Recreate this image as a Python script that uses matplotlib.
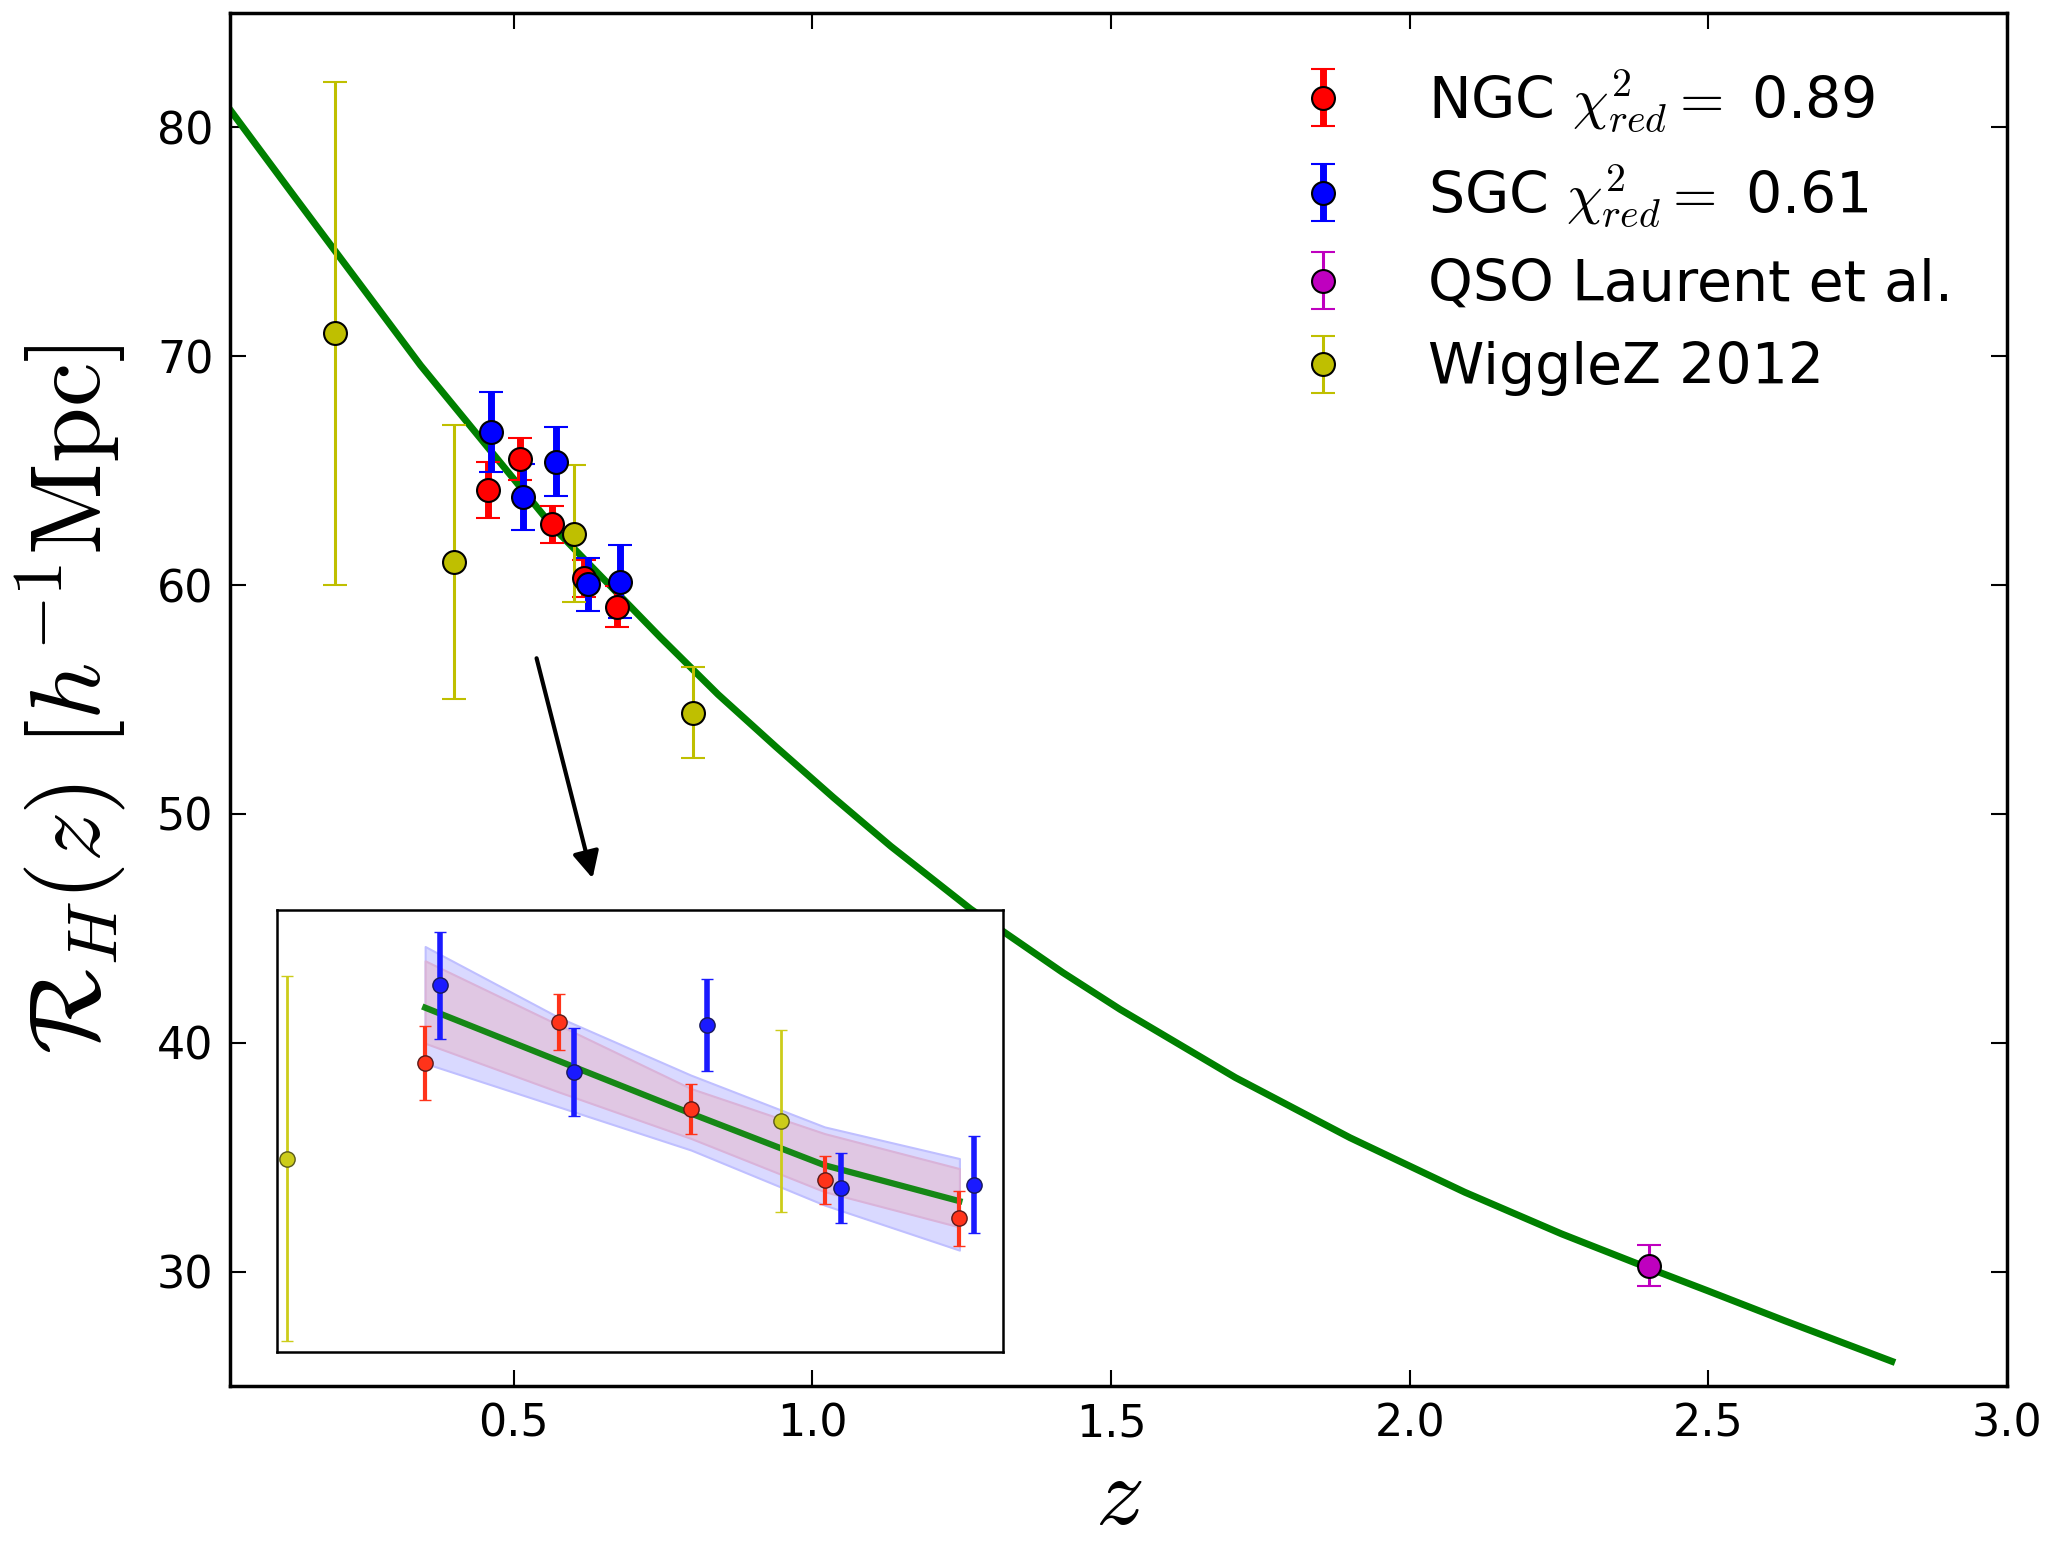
import numpy as np
import matplotlib.pyplot as plt

plt.rcParams['mathtext.fontset'] = 'cm'
plt.rcParams['font.family'] = 'DejaVu Sans'

# best-fit model curve
z_model = [0.027, 0.135, 0.344, 0.567, 0.746, 0.842, 0.939, 1.035, 1.131, 1.265,
           1.419, 1.515, 1.708, 1.900, 2.092, 2.254, 2.400, 2.500, 2.628, 2.807]
rh_model = [80.7, 76.9, 69.6, 62.5, 57.7, 55.22, 52.93, 50.72, 48.59, 45.84,
            43.07, 41.46, 38.48, 35.85, 33.47, 31.65, 30.15, 29.15, 27.85, 26.08]

# data points
z_ngc = [0.456, 0.510, 0.5635, 0.6175, 0.672]
rh_ngc = [64.15, 65.5, 62.65, 60.3, 59.05]
err_ngc = [1.23, 0.93, 0.82, 0.8, 0.9]

z_sgc = [0.462, 0.516, 0.570, 0.624, 0.678]
rh_sgc = [66.7, 63.85, 65.4, 60.03, 60.15]
err_sgc = [1.75, 1.45, 1.5, 1.15, 1.6]

z_qso = [2.4]
rh_qso = [30.25]
err_qso = [0.9]

z_wig = [0.2, 0.4, 0.6, 0.8]
rh_wig = [71.0, 61.0, 62.25, 54.43]
err_wig = [11.0, 6.0, 3.0, 2.0]

# zoomed panel: fit and uncertainty bands at the NGC redshifts
fit_zoom = [65.97, 64.22, 62.49, 60.79, 59.61]
sgc_lo = [64.14, 62.71, 61.29, 59.48, 58.0]
sgc_hi = [67.98, 65.65, 63.75, 62.05, 61.01]
ngc_lo = [64.8, 63.2, 61.67, 59.92, 58.76]
ngc_hi = [67.51, 65.4, 63.31, 61.83, 60.68]

labels = [r'NGC $\chi^2_{red} = $ 0.89', r'SGC $\chi^2_{red} = $ 0.61',
          'QSO Laurent et al.', 'WiggleZ 2012']

fig = plt.figure(figsize=(20.56, 15.45), dpi=100)
ax = fig.add_axes([0.1119, 0.1029, 0.8643, 0.8887])

ax.plot(z_model, rh_model, color='g', lw=5, zorder=2)

ms = 16.5
h1 = ax.errorbar(z_ngc, rh_ngc, yerr=err_ngc, fmt='o', color='r', mec='k', mew=1.5,
                 ms=ms, elinewidth=5, capsize=8.6, capthick=2.5, zorder=3)
h2 = ax.errorbar(z_sgc, rh_sgc, yerr=err_sgc, fmt='o', color='b', mec='k', mew=1.5,
                 ms=ms, elinewidth=5, capsize=8.6, capthick=2.5, zorder=3)
h3 = ax.errorbar(z_qso, rh_qso, yerr=err_qso, fmt='o', color='m', mec='k', mew=1.5,
                 ms=ms, elinewidth=2.2, capsize=8.6, capthick=2.2, zorder=3)
h4 = ax.errorbar(z_wig, rh_wig, yerr=err_wig, fmt='o', color='y', mec='k', mew=1.5,
                 ms=ms, elinewidth=2.2, capsize=8.6, capthick=2.2, zorder=3)

ax.set_xlim(0.025, 3.0)
ax.set_ylim(25, 85)
ax.set_xticks([0.5, 1.0, 1.5, 2.0, 2.5, 3.0])
ax.set_yticks([30, 40, 50, 60, 70, 80])
ax.tick_params(direction='in', top=True, right=True, length=11.5, width=1.5,
               labelsize=32, pad=12)
for s in ax.spines.values():
    s.set_linewidth(2.5)

ax.set_xlabel(r'$z$', fontsize=70, labelpad=4)
ax.set_ylabel(r'$\mathcal{R}_H(z)\ [h^{-1}\mathrm{Mpc}]$', fontsize=72, labelpad=20)

ax.legend([h1, h2, h3, h4], labels, loc='upper right', frameon=False, numpoints=1,
          fontsize=41, handletextpad=0.85, labelspacing=0.5, borderaxespad=0.55)

# arrow pointing to the zoomed panel
ax.annotate('', xy=(0.633, 47.07), xytext=(0.537, 56.92),
            arrowprops=dict(arrowstyle='-|>', color='k', lw=3, mutation_scale=40))

# zoomed panel
axi = fig.add_axes([0.1346, 0.1251, 0.3531, 0.2859], zorder=5)
axi.fill_between(z_ngc, sgc_lo, sgc_hi, facecolor=(0.85, 0.85, 1.0),
                 edgecolor=(0.75, 0.75, 1.0), lw=1.5)
axi.fill_between(z_ngc, ngc_lo, ngc_hi, facecolor=(0.88, 0.78, 0.89),
                 edgecolor=(0.85, 0.7, 0.85), lw=1.5)
axi.plot(z_ngc, fit_zoom, color='g', lw=4.5, alpha=0.9)
axi.errorbar(z_ngc, rh_ngc, yerr=err_ngc, fmt='o', color=(1.0, 0.2, 0.1), mec=(0.35, 0.1, 0.1),
             mew=1, ms=11, elinewidth=3, capsize=4.5, capthick=1.5)
axi.errorbar(z_sgc, rh_sgc, yerr=err_sgc, fmt='o', color=(0.1, 0.1, 1.0), mec=(0.1, 0.1, 0.35),
             mew=1, ms=11, elinewidth=4, capsize=4.5, capthick=1.5)
axi.errorbar(z_wig, rh_wig, yerr=err_wig, fmt='o', color=(0.8, 0.8, 0.1), mec=(0.35, 0.35, 0.1),
             mew=1, ms=11, elinewidth=2, capsize=4.5, capthick=1.2)
axi.set_xlim(0.396, 0.6895)
axi.set_ylim(54.66, 69.18)
axi.set_xticks([])
axi.set_yticks([])
for s in axi.spines.values():
    s.set_linewidth(1.8)

fig.savefig('out.png', dpi=100)
